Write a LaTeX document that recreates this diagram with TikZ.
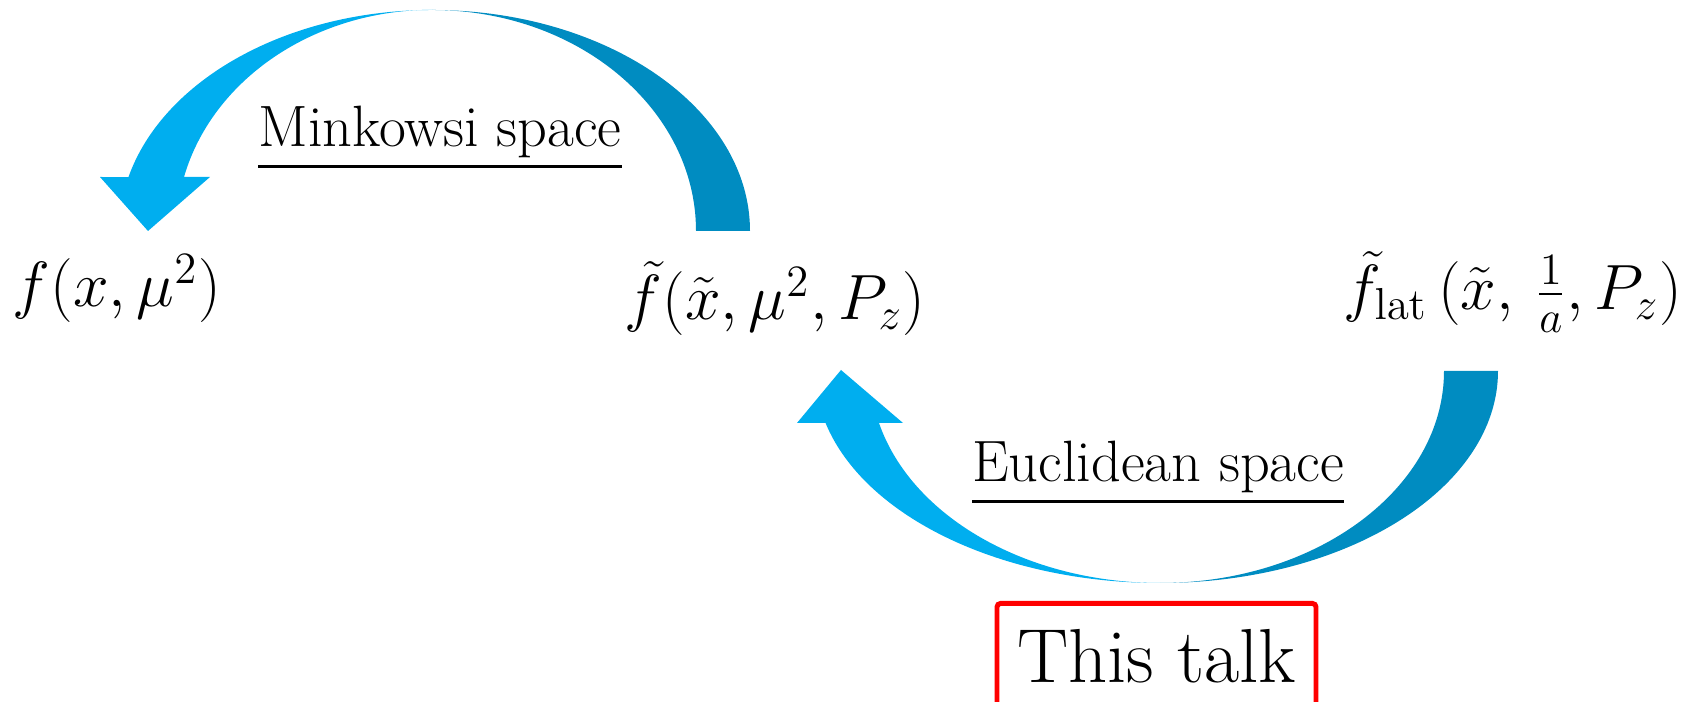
\RequirePackage{fix-cm}
\documentclass[tikz,border=0pt]{standalone}
\usepackage{tikz}
\usetikzlibrary{positioning}
\usepackage{amsmath}
\usepackage{amssymb}
\definecolor{arrlight}{RGB}{0,174,239}
\definecolor{arrdark}{RGB}{0,140,193}

\begin{document}
\begin{tikzpicture}[
        lightpart/.style={fill=arrlight,draw=none},
        darkpart/.style={fill=arrdark,draw=none},
        mathlbl/.style={inner sep=0pt,font=\fontsize{18.2}{22}\selectfont},
        spacelbl/.style={inner sep=0pt,font=\fontsize{16.6}{20}\selectfont},
        talkbox/.style={draw=red,line width=1.4pt,rounded corners=1pt,inner sep=0pt,font=\fontsize{21.8}{26}\selectfont}]
        \useasboundingbox (0,0) rectangle (16.94,7.02);
        % upper arrow (Minkowski side)
        \fill[darkpart] (7.50,4.71) arc[start angle=0,end angle=90,x radius=3.18,y radius=2.21]
            arc[start angle=90,end angle=0,x radius=2.64,y radius=2.21] -- cycle;
        \fill[lightpart] (4.32,6.92) arc[start angle=90,end angle=165.9,x radius=3.13,y radius=2.21]
            -- (1.00,5.25) -- (1.48,4.71) -- (2.10,5.25) -- (1.84,5.25)
            arc[start angle=165.9,end angle=90,x radius=2.56,y radius=2.21] -- cycle;
        % lower arrow (Euclidean side)
        \fill[darkpart] (14.98,3.31) arc[start angle=0,end angle=-90,x radius=3.38,y radius=2.12]
            arc[start angle=-90,end angle=0,x radius=2.84,y radius=2.12] -- cycle;
        \fill[lightpart] (11.60,1.19) arc[start angle=270,end angle=194.2,x radius=3.45,y radius=2.12]
            -- (7.97,2.79) -- (8.41,3.32) -- (9.03,2.79) -- (8.79,2.79)
            arc[start angle=194.2,end angle=270,x radius=2.90,y radius=2.12] -- cycle;
        % labels
        \node[spacelbl,anchor=base] (mink) at (4.40,5.55) {\underline{Minkowsi space}};
        \node[spacelbl,anchor=base] (eucl) at (11.58,2.20) {\underline{Euclidean space}};
        \node[mathlbl,anchor=base west] (fmink) at (0.12,3.95) {$f(x,\mu^2)$};
        \node[mathlbl,anchor=base west] (fquasi) at (6.24,3.82) {$\tilde{f}(\tilde{x},\mu^2,P_z)$};
        \node[mathlbl,anchor=base west] (flat) at (13.43,3.92) {$\tilde{f}_{\mathrm{lat}}\,(\tilde{x},\,\frac{1}{a},P_z)$};
        \node[talkbox,anchor=north,minimum width=3.19cm,minimum height=1.06cm] (talk) at (11.565,1.01) {This talk};
    \end{tikzpicture}
\end{document}
